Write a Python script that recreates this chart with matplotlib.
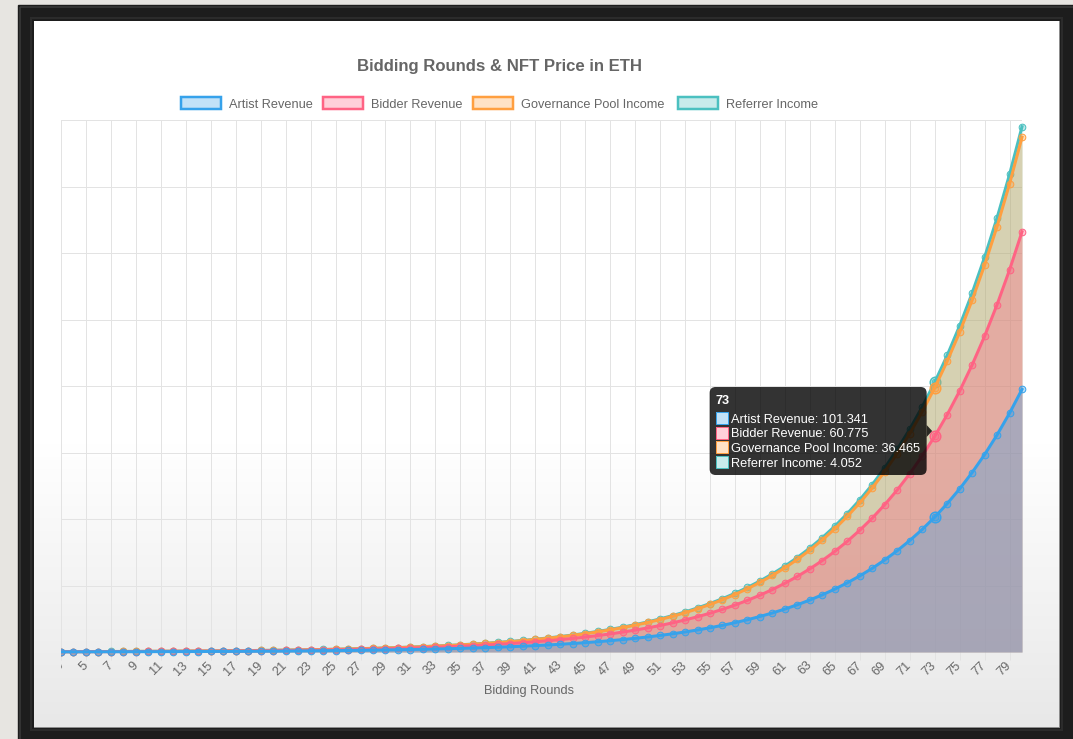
import numpy as np
import matplotlib
matplotlib.use("Agg")
import matplotlib.pyplot as plt
from matplotlib.patches import Rectangle, FancyBboxPatch, Polygon
from matplotlib.transforms import Bbox, TransformedBbox
from matplotlib.colors import to_rgba

plt.rcParams['font.family'] = ['Liberation Sans', 'DejaVu Sans']

# ---- data (stacked series) ----
rounds = np.arange(3, 81)
artist = [0.128, 0.141, 0.155, 0.171, 0.188, 0.207, 0.227, 0.250, 0.275, 0.303,
          0.333, 0.366, 0.403, 0.443, 0.487, 0.536, 0.590, 0.649, 0.713, 0.785,
          0.863, 0.950, 1.045, 1.149, 1.264, 1.390, 1.529, 1.682, 1.851, 2.036,
          2.239, 2.463, 2.709, 2.980, 3.278, 3.606, 3.967, 4.363, 4.800, 5.280,
          5.808, 6.388, 7.027, 7.730, 8.503, 9.353, 10.289, 11.318, 12.449, 13.694,
          15.064, 16.570, 18.227, 20.050, 22.055, 24.260, 26.686, 29.355, 32.291, 35.520,
          39.072, 42.979, 47.277, 52.004, 57.205, 62.925, 69.217, 76.139, 83.753, 92.128,
          101.341, 111.475, 122.623, 134.885, 148.374, 163.211, 179.532, 197.485]
bidder = [0.077, 0.085, 0.093, 0.103, 0.113, 0.124, 0.136, 0.150, 0.165, 0.182,
          0.200, 0.220, 0.242, 0.266, 0.292, 0.322, 0.354, 0.389, 0.428, 0.471,
          0.518, 0.570, 0.627, 0.689, 0.758, 0.834, 0.917, 1.009, 1.111, 1.222,
          1.343, 1.478, 1.625, 1.788, 1.967, 2.164, 2.380, 2.618, 2.880, 3.168,
          3.485, 3.833, 4.216, 4.638, 5.102, 5.612, 6.173, 6.791, 7.469, 8.216,
          9.038, 9.942, 10.936, 12.030, 13.233, 14.556, 16.012, 17.613, 19.375, 21.312,
          23.443, 25.787, 28.366, 31.202, 34.323, 37.755, 41.530, 45.683, 50.252, 55.277,
          60.775, 66.885, 73.574, 80.931, 89.024, 97.927, 107.719, 118.491]
governance = [0.046, 0.051, 0.056, 0.062, 0.068, 0.075, 0.082, 0.090, 0.099, 0.109,
              0.120, 0.132, 0.145, 0.159, 0.175, 0.193, 0.212, 0.234, 0.257, 0.283,
              0.311, 0.342, 0.376, 0.414, 0.455, 0.500, 0.550, 0.606, 0.666, 0.733,
              0.806, 0.887, 0.975, 1.073, 1.180, 1.298, 1.428, 1.571, 1.728, 1.901,
              2.091, 2.300, 2.530, 2.783, 3.061, 3.367, 3.704, 4.074, 4.482, 4.930,
              5.423, 5.965, 6.562, 7.218, 7.940, 8.734, 9.607, 10.568, 11.625, 12.787,
              14.066, 15.472, 17.020, 18.721, 20.594, 22.653, 24.918, 27.410, 30.151, 33.166,
              36.465, 40.131, 44.144, 48.559, 53.415, 58.756, 64.632, 71.095]
referrer = [0.005, 0.006, 0.006, 0.007, 0.008, 0.008, 0.009, 0.010, 0.011, 0.012,
            0.013, 0.015, 0.016, 0.018, 0.019, 0.021, 0.024, 0.026, 0.029, 0.031,
            0.035, 0.038, 0.042, 0.046, 0.051, 0.056, 0.061, 0.067, 0.074, 0.081,
            0.090, 0.099, 0.108, 0.119, 0.131, 0.144, 0.159, 0.175, 0.192, 0.211,
            0.232, 0.256, 0.281, 0.309, 0.340, 0.374, 0.412, 0.453, 0.498, 0.548,
            0.603, 0.663, 0.729, 0.802, 0.882, 0.970, 1.067, 1.174, 1.292, 1.421,
            1.563, 1.719, 1.891, 2.080, 2.288, 2.517, 2.769, 3.046, 3.350, 3.685,
            4.052, 4.459, 4.905, 5.395, 5.935, 6.528, 7.181, 7.899]
names = ['Artist Revenue', 'Bidder Revenue', 'Governance Pool Income', 'Referrer Income']
colors = ['#36a2eb', '#ff6384', '#ff9f40', '#4bc0c0']
hover_round = 73

W, H = 1073, 739
PX = 0.72  # points per pixel at dpi 100
FS = 12.8 * PX
GREY = '#666666'
DY = 1.8  # text baseline nudge, px

fig = plt.figure(figsize=(W / 100, H / 100), dpi=100)
fig.patch.set_facecolor('#e7e5e1')

# background: dark picture frame + white panel with soft gradient at the bottom
bg = fig.add_axes([0, 0, 1, 1], zorder=0)
bg.add_patch(Rectangle((18, 5), W - 18, H - 5, color='#1d1d1d', zorder=1))
bg.add_patch(Rectangle((19.5, 6.5), W, H, fill=False, ec='#3b3b3b', lw=1.5 * PX, zorder=1))
bg.add_patch(Rectangle((31, 18), 1031, 712, fill=False, ec='#2b2b2b', lw=2 * PX, zorder=1))
rows = np.linspace(21, 727, 400)
shade = np.where(rows < 445, 1.0, 1.0 - (rows - 445) / (727 - 445) * 0.09)
img = np.repeat(shade[:, None], 2, axis=1)
bg.imshow(np.dstack([img, img, img]), extent=(34, 1059, 727, 21), aspect='auto',
          interpolation='bilinear', zorder=2)
bg.plot([34, 1059, 1059], [727, 727, 21], color='#8c8c8c', lw=1 * PX, zorder=3)
bg.set_xlim(0, W)
bg.set_ylim(H, 0)
bg.axis('off')

# main chart
ax = fig.add_axes([61 / W, (H - 652) / H, 961 / W, 532 / H], zorder=1)
ax.patch.set_alpha(0)
ax.set_xlim(3, 80)
ax.set_ylim(0, 400)
for s in ax.spines.values():
    s.set_visible(False)
ax.set_axisbelow(True)
ax.set_yticks(np.arange(0, 401, 50))
ax.tick_params(axis='y', length=0, labelleft=False)
ax.set_xticks(rounds[::2])
ax.set_xticklabels([str(r) for r in rounds[::2]])
ax.tick_params(axis='x', length=8 * PX, width=1 * PX, color='#e3e3e3', pad=2.5,
               labelsize=FS, labelcolor=GREY)
ax.grid(True, color='#e3e3e3', lw=1 * PX)
ax.axhline(0, color='#c4c4c4', lw=1 * PX, zorder=0.5)

clip = TransformedBbox(Bbox.from_extents(61 / W, 0, 1, 1), fig.transFigure)
for lbl in ax.get_xticklabels():
    lbl.set_rotation(45)
    lbl.set_ha('right')
    lbl.set_va('center')
    lbl.set_rotation_mode('anchor')
    lbl.set_clip_box(clip)
    lbl.set_clip_on(True)

series = [artist, bidder, governance, referrer]
tops = np.cumsum(np.array(series), axis=0)
hi = list(rounds).index(hover_round)
for i in reversed(range(4)):
    c = colors[i]
    z = 2 + (3 - i) * 2
    ax.fill_between(rounds, 0, tops[i], color=c, alpha=0.33, lw=0, zorder=z)
    ln, = ax.plot(rounds, tops[i], color=c, lw=3 * PX, marker='o', ms=4.8,
                  mfc=to_rgba(c, 0.35), mec=c, mew=1 * PX, zorder=z + 0.5)
    ln.set_clip_box(clip)
    hv, = ax.plot([hover_round], [tops[i][hi]], 'o', ms=7.6, mfc=to_rgba(c, 0.35),
                  mec=c, mew=1.5 * PX, zorder=z + 0.6)
    hv.set_clip_box(clip)

# overlay in pixel coordinates: title, legend, tooltip, axis title
ov = fig.add_axes([0, 0, 1, 1], zorder=3)
ov.set_xlim(0, W)
ov.set_ylim(H, 0)
ov.axis('off')
ov.patch.set_alpha(0)

ov.text(499.5, 65 + DY, 'Bidding Rounds & NFT Price in ETH', ha='center', va='center',
        fontsize=16.7 * PX, fontweight='bold', color=GREY)

legend_x = [180, 322, 472, 677]
for k in range(4):
    x0 = legend_x[k]
    ov.add_patch(Rectangle((x0 + 1.25, 97.25), 40, 11.5, fc=to_rgba(colors[k], 0.3),
                           ec=colors[k], lw=2.5 * PX))
    ov.text(x0 + 49, 103 + DY, names[k], ha='left', va='center', fontsize=FS, color=GREY)

ov.text(529.5, 689 + DY, 'Bidding Rounds', ha='center', va='center', fontsize=FS, color=GREY)

# tooltip anchored at the hovered round
pts = ax.transData.transform([(hover_round, tops[i][hi]) for i in range(4)])
px_x = pts[0, 0]
cy = np.mean(H - pts[:, 1])
tip_x = px_x - 2.5
box_r = tip_x - 5.5
box_w, box_h = 217, 88
box_l = box_r - box_w
box_t = cy - box_h / 2
ov.add_patch(FancyBboxPatch((box_l, box_t), box_w, box_h,
                            boxstyle='round,pad=0,rounding_size=6',
                            fc=(0, 0, 0, 0.8), ec='none'))
ov.add_patch(Polygon([[box_r, cy - 6], [tip_x, cy], [box_r, cy + 6]],
                     closed=True, fc=(0, 0, 0, 0.8), ec='none'))
ov.text(box_l + 6, box_t + 12.5 + DY, str(hover_round), ha='left', va='center',
        fontsize=FS, fontweight='bold', color='white')
for k in range(4):
    y = box_t + 31 + k * 14.6
    ov.add_patch(Rectangle((box_l + 6.5, y - 6), 12, 12, fc='white', ec='none'))
    ov.add_patch(Rectangle((box_l + 6.5, y - 6), 12, 12, fc=to_rgba(colors[k], 0.3),
                           ec=colors[k], lw=1 * PX))
    ov.text(box_l + 21, y + DY, f'{names[k]}: {series[k][hi]:.3f}', ha='left', va='center',
            fontsize=FS, color='white')

fig.savefig('out.png', dpi=100)
